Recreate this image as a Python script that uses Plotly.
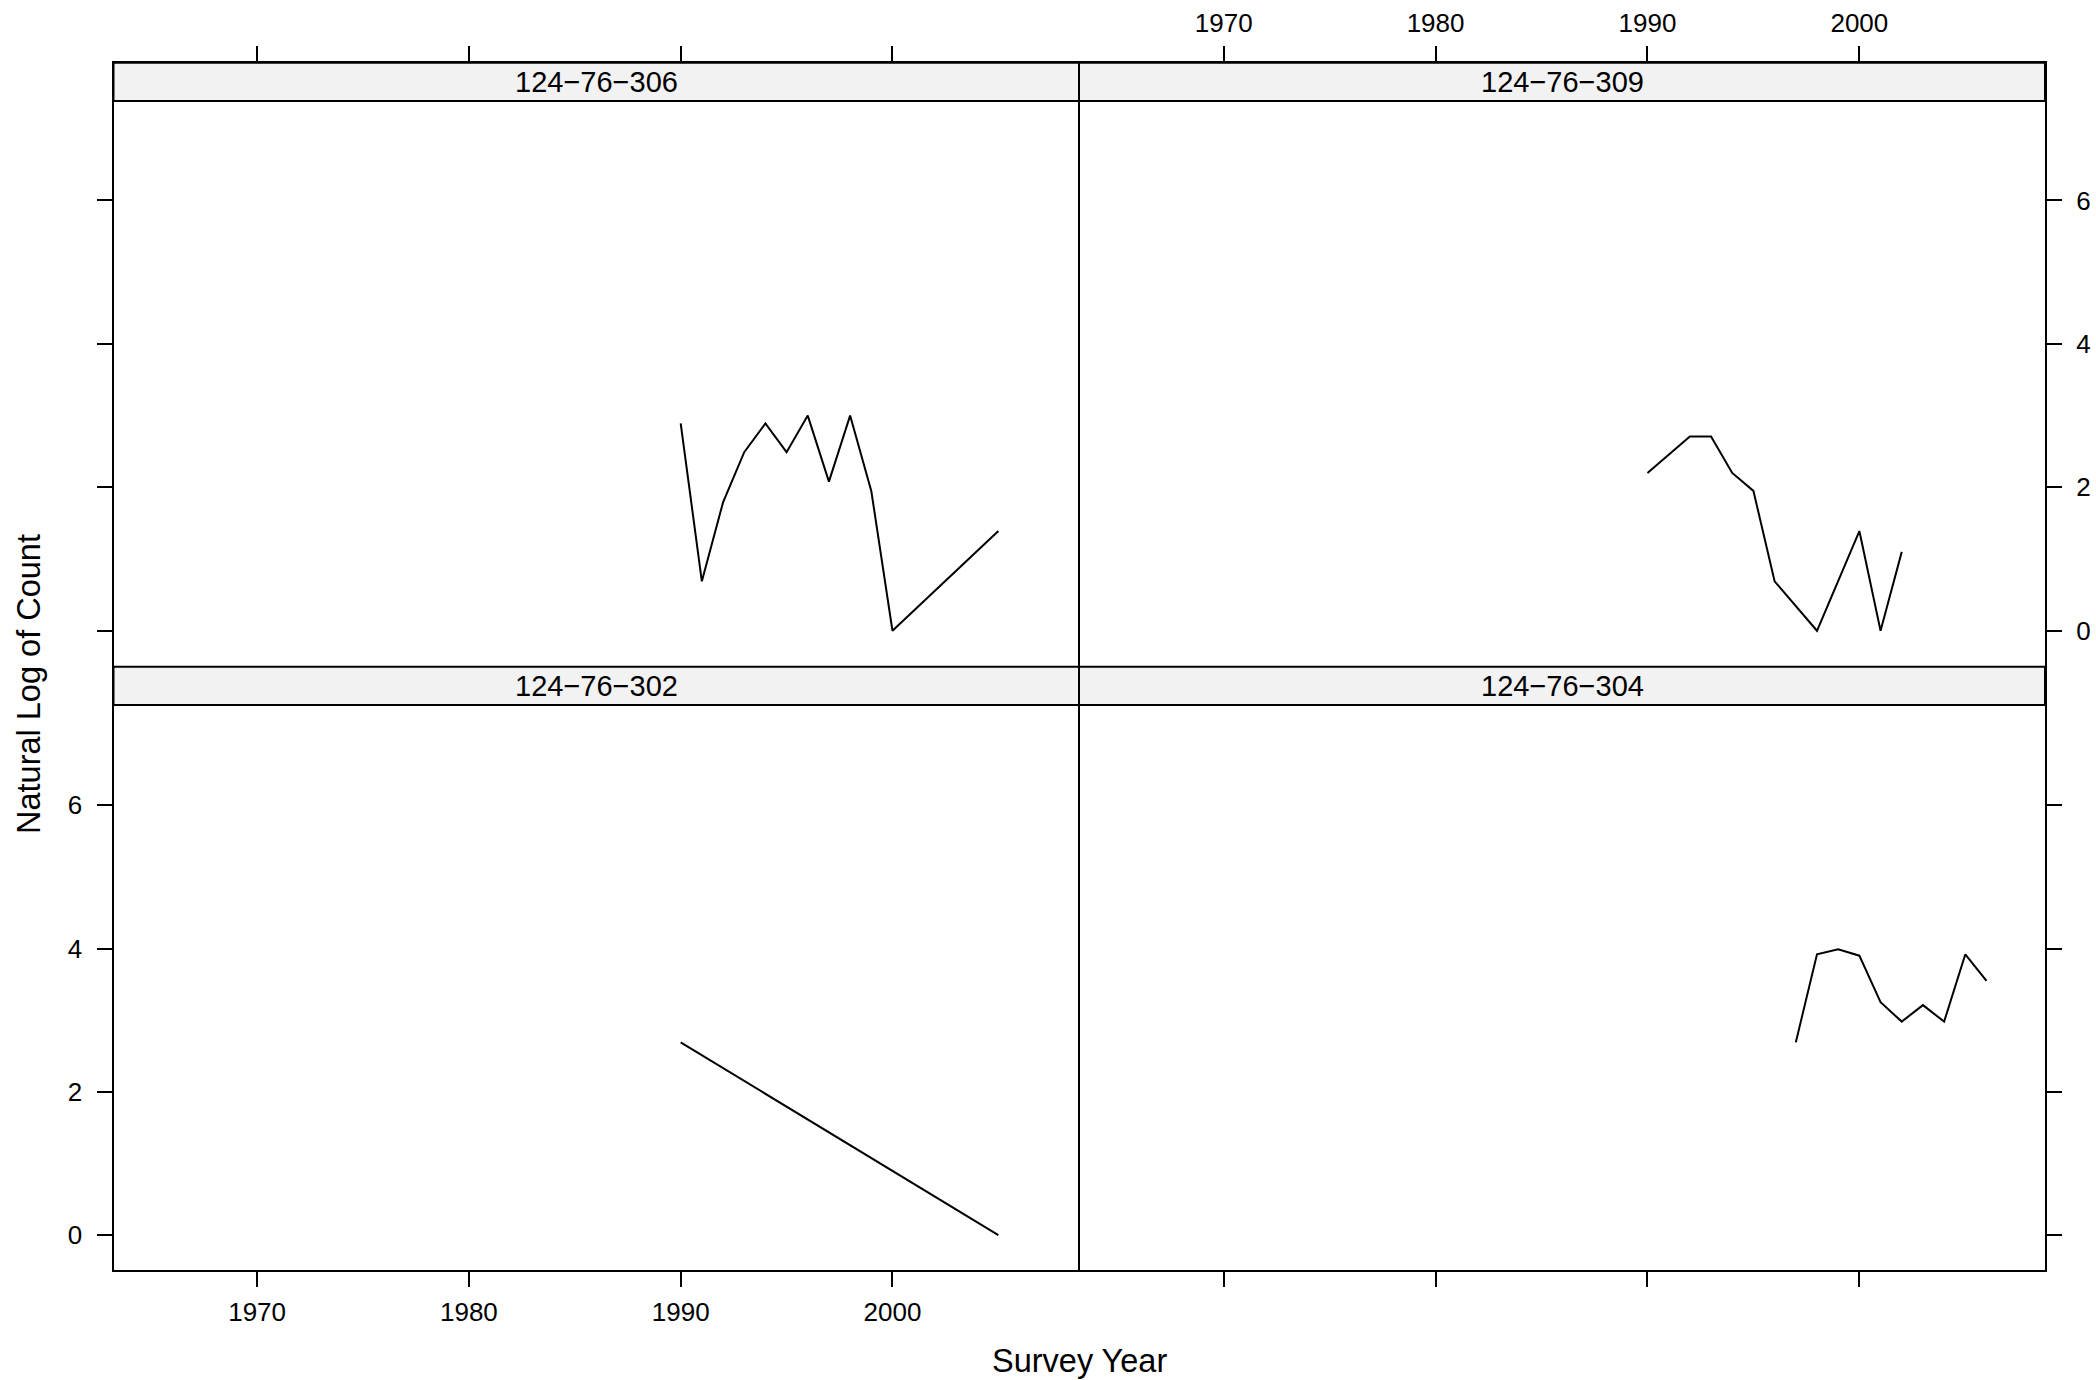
import plotly.graph_objects as go

# ---------------- data ----------------
panel_names = ["124\u221276\u2212306", "124\u221276\u2212309", "124\u221276\u2212302", "124\u221276\u2212304"]

years_306 = [1990, 1991, 1992, 1993, 1994, 1995, 1996, 1997, 1998, 1999, 2000, 2005]
lncount_306 = [2.89, 0.69, 1.79, 2.49, 2.89, 2.49, 3.00, 2.08, 3.00, 1.95, 0.00, 1.39]

years_309 = [1990, 1992, 1993, 1994, 1995, 1996, 1998, 2000, 2001, 2002]
lncount_309 = [2.20, 2.71, 2.71, 2.20, 1.95, 0.69, 0.00, 1.39, 0.00, 1.10]

years_302 = [1990, 2005]
lncount_302 = [2.69, 0.00]

years_304 = [1997, 1998, 1999, 2000, 2001, 2002, 2003, 2004, 2005, 2006]
lncount_304 = [2.69, 3.92, 3.99, 3.90, 3.25, 2.98, 3.21, 2.98, 3.92, 3.55]

x_ticks = [1970, 1980, 1990, 2000]
y_ticks = [0, 2, 4, 6]
x_title = "Survey Year"
y_title = "Natural Log of Count"

# ---------------- layout helpers ----------------
W, H = 2096, 1380
def fx(p): return p / W
def fy(p): return 1 - p / H

X_L, X_M, X_R = 113.5, 1079, 2045
Y_T, Y_M, Y_B = 62.7, 666.7, 1270
STRIP = 38.3

# axis lines are drawn 1px outside the domain, so pull shared edges in by 1px
xdomL = [fx(X_L), fx(X_M - 1)]
xdomR = [fx(X_M + 1), fx(X_R)]
ydomU = [fy(Y_M - 1), fy(Y_T)]
ydomD = [fy(Y_B), fy(Y_M + 1)]

x_range = [1963.22, 2008.76]
y_range = [-0.487, 7.92]

FONT = "Liberation Sans, Arial, Helvetica, sans-serif"
TICK_FONT = dict(family=FONT, size=26, color="black")

fig = go.Figure()
series = [(years_306, lncount_306), (years_309, lncount_309),
          (years_302, lncount_302), (years_304, lncount_304)]
for i, (xs, ys) in enumerate(series):
    sfx = "" if i == 0 else str(i + 1)
    fig.add_trace(go.Scatter(x=xs, y=ys, mode="lines",
                             line=dict(color="black", width=2),
                             xaxis="x" + sfx, yaxis="y" + sfx,
                             showlegend=False, hoverinfo="skip"))

common_axis = dict(showline=True, linecolor="black", linewidth=2, mirror=True,
                   showgrid=False, zeroline=False, ticks="outside", ticklen=15,
                   tickwidth=2, tickcolor="black", tickfont=TICK_FONT)

def xax(dom, side, labels, anchor):
    return dict(common_axis, domain=dom, range=x_range, tickvals=x_ticks,
                side=side, showticklabels=labels, anchor=anchor,
                ticklabelstandoff=3)

def yax(dom, side, labels, anchor):
    return dict(common_axis, domain=dom, range=y_range, tickvals=y_ticks,
                side=side, showticklabels=labels, anchor=anchor,
                ticklabelstandoff=9)

fig.update_layout(
    width=W, height=H,
    margin=dict(l=0, r=0, t=0, b=0),
    paper_bgcolor="white", plot_bgcolor="white",
    xaxis=xax(xdomL, "top", False, "y"),
    yaxis=yax(ydomU, "left", False, "x"),
    xaxis2=xax(xdomR, "top", True, "y2"),
    yaxis2=yax(ydomU, "right", True, "x2"),
    xaxis3=xax(xdomL, "bottom", True, "y3"),
    yaxis3=yax(ydomD, "left", True, "x3"),
    xaxis4=xax(xdomR, "bottom", False, "y4"),
    yaxis4=yax(ydomD, "right", False, "x4"),
)

# strips
shapes = []
annotations = []
strip_pos = [(X_L, X_M, Y_T), (X_M, X_R, Y_T), (X_L, X_M, Y_M), (X_M, X_R, Y_M)]
for name, (x0, x1, y0) in zip(panel_names, strip_pos):
    shapes.append(dict(type="rect", xref="paper", yref="paper",
                       x0=fx(x0), x1=fx(x1), y0=fy(y0 + STRIP), y1=fy(y0),
                       fillcolor="#F2F2F2", line=dict(color="black", width=2),
                       layer="above"))
    annotations.append(dict(text=name, xref="paper", yref="paper",
                            x=fx((x0 + x1) / 2), y=fy(y0 + STRIP / 2),
                            xanchor="center", yanchor="middle", showarrow=False,
                            font=dict(family=FONT, size=29, color="black")))

annotations.append(dict(text=x_title, xref="paper", yref="paper",
                        x=fx(X_M), y=fy(1361), xanchor="center", yanchor="middle",
                        showarrow=False, font=dict(family=FONT, size=32.5, color="black")))
annotations.append(dict(text=y_title, xref="paper", yref="paper",
                        x=fx(29), y=fy(684), xanchor="center", yanchor="middle",
                        textangle=-90, showarrow=False,
                        font=dict(family=FONT, size=32.5, color="black")))

fig.update_layout(shapes=shapes, annotations=annotations)
fig.write_html("out.html", config={"displayModeBar": False},
               post_script="document.body.style.margin='0';document.body.style.overflow='hidden';")
